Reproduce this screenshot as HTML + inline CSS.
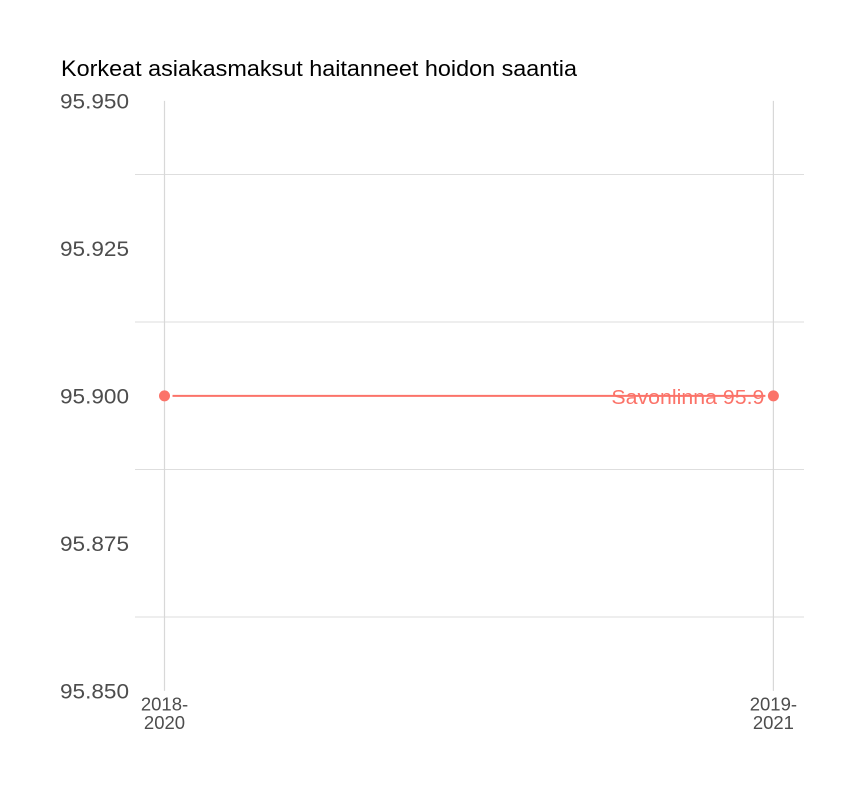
<!DOCTYPE html>
<html lang="fi">
<head>
<meta charset="utf-8">
<title>Korkeat asiakasmaksut haitanneet hoidon saantia</title>
<style>
html,body{margin:0;padding:0;background:#fff;}
svg{display:block;font-family:"Liberation Sans",sans-serif;}
</style>
</head>
<body>
<svg id="chart" width="864" height="792" viewBox="0 0 864 792" xmlns="http://www.w3.org/2000/svg">
<rect x="0" y="0" width="864" height="792" fill="#ffffff"/>
<text x="61" y="76" font-size="22" fill="#000000" textLength="516" lengthAdjust="spacingAndGlyphs">Korkeat asiakasmaksut haitanneet hoidon saantia</text>
<g id="grid"></g>
<g id="yaxis"></g>
<g id="xaxis"></g>
<g id="series"></g>
</svg>
<script>
const categories = [["2018-", "2020"], ["2019-", "2021"]];
const seriesName = "Savonlinna";
const seriesValues = [95.9, 95.9];
const yTicks = [95.85, 95.875, 95.9, 95.925, 95.95];
const yMinorGrid = [95.8625, 95.8875, 95.9125, 95.9375];

const NS = "http://www.w3.org/2000/svg";
const yMin = 95.85, yMax = 95.95;
const plotTop = 100.9, plotBottom = 690.9, gridLeft = 135, gridRight = 804;
const xFirst = 164.5, xLast = 773.4;
const colour = "#fb7369";

function xScale(i) {
  return xFirst + (xLast - xFirst) * i / (categories.length - 1);
}
function yScale(v) {
  return plotBottom - (v - yMin) / (yMax - yMin) * (plotBottom - plotTop);
}
function make(tag, attrs, parent, text) {
  const el = document.createElementNS(NS, tag);
  for (const k in attrs) el.setAttribute(k, attrs[k]);
  if (text !== undefined) el.textContent = text;
  parent.appendChild(el);
  return el;
}

const grid = document.getElementById("grid");
const yaxis = document.getElementById("yaxis");
const xaxis = document.getElementById("xaxis");
const series = document.getElementById("series");

yMinorGrid.forEach(function (v) {
  const y = yScale(v) - 0.4;
  const el = make("line", {x1: gridLeft, x2: gridRight, y1: y, y2: y, stroke: "#dedede", "stroke-width": 1, "shape-rendering": "crispEdges"}, grid);
  
  
});

categories.forEach(function (c, i) {
  const x = xScale(i);
  const el = make("line", {x1: x, x2: x, y1: plotTop, y2: plotBottom, stroke: "#d8d8d8", "stroke-width": 1.2}, grid);
  
  
});

yTicks.forEach(function (v) {
  const el = make("text", {x: 60, y: yScale(v) + 7.5, "font-size": 21, fill: "#4d4d4d", textLength: 69, lengthAdjust: "spacingAndGlyphs"}, yaxis, v.toFixed(3));
  
  
});

categories.forEach(function (c, i) {
  c.forEach(function (line, j) {
    const el = make("text", {x: xScale(i), y: 710.5 + j * 18.3, "font-size": 18.5, fill: "#4d4d4d", "text-anchor": "middle"}, xaxis, line);
    
    
  });
});

const seg = make("line", {
  x1: xScale(0) + 8, x2: xScale(1) - 8,
  y1: yScale(seriesValues[0]), y2: yScale(seriesValues[1]),
  stroke: colour, "stroke-width": 2
}, series);



seriesValues.forEach(function (v, i) {
  const el = make("circle", {cx: xScale(i), cy: yScale(v), r: 5.5, fill: colour}, series);
  
  
});

const last = seriesValues.length - 1;
const lbl = make("text", {
  x: xScale(last) - 9, y: yScale(seriesValues[last]) + 8,
  "font-size": 20, fill: colour, "text-anchor": "end",
  textLength: 153, lengthAdjust: "spacingAndGlyphs"
}, series, seriesName + " " + seriesValues[last]);


</script>
</body>
</html>
